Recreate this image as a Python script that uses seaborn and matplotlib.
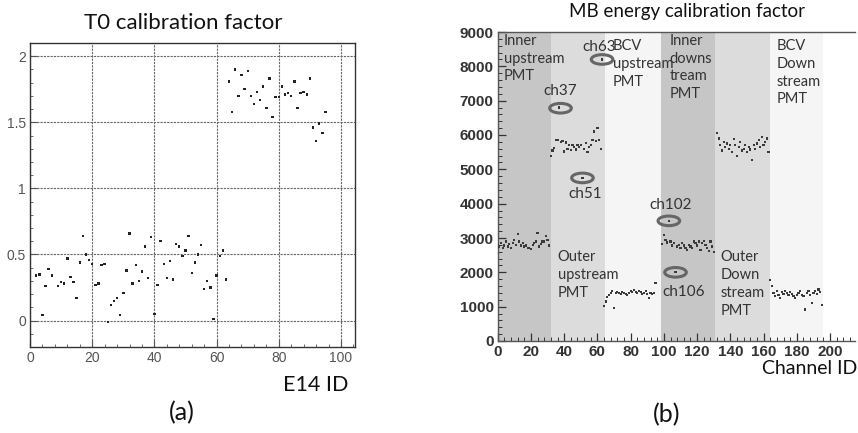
import numpy as np
import pandas as pd
import seaborn as sns
import matplotlib
matplotlib.use("Agg")
import matplotlib.pyplot as plt
from matplotlib.patches import Ellipse
from matplotlib.ticker import MultipleLocator

# ---------------- data: panel (a) ----------------
t0_ids = [2, 3, 4, 5, 6, 7, 9, 10, 11, 12, 13, 14, 15, 16, 17, 18, 19, 20, 21, 22,
          23, 24, 25, 26, 27, 28, 29, 30, 31, 32, 33, 34, 35, 36, 37, 38, 39, 40, 41, 42,
          43, 44, 45, 46, 47, 48, 49, 50, 51, 52, 53, 54, 55, 56, 57, 58, 59, 60, 61, 62,
          63, 64, 65, 66, 67, 68, 69, 70, 71, 72, 73, 74, 75, 76, 77, 78, 79, 80, 81, 82,
          83, 84, 85, 86, 87, 88, 89, 90, 91, 92, 93, 94, 95]
t0_vals = [0.34, 0.35, 0.04, 0.26, 0.39, 0.34, 0.26, 0.29, 0.28, 0.47, 0.33, 0.29, 0.17, 0.44, 0.64, 0.50, 0.46, 0.43, 0.27, 0.28,
           0.42, 0.43, -0.01, 0.12, 0.15, 0.17, 0.04, 0.21, 0.38, 0.66, 0.28, 0.42, 0.30, 0.37, 0.56, 0.32, 0.63, 0.05, 0.27, 0.60,
           0.43, 0.32, 0.45, 0.31, 0.58, 0.56, 0.49, 0.53, 0.64, 0.36, 0.44, 0.50, 0.57, 0.24, 0.30, 0.25, 0.01, 0.34, 0.49, 0.53,
           0.31, 1.81, 1.58, 1.90, 1.70, 1.86, 1.75, 1.89, 1.70, 1.64, 1.73, 1.67, 1.77, 1.61, 1.83, 1.54, 1.69, 1.69, 1.77, 1.71,
           1.72, 1.70, 1.81, 1.61, 1.72, 1.73, 1.71, 1.83, 1.46, 1.36, 1.49, 1.42, 1.58]

# ---------------- data: panel (b) ----------------
group_names = ["Inner\nupstream\nPMT", "Outer\nupstream\nPMT", "BCV\nupstream\nPMT",
               "Inner\ndowns\ntream\nPMT", "Outer\nDown\nstream\nPMT", "BCV\nDown\nstream\nPMT"]
group_first_channel = [0, 32, 64, 99, 132, 164]
band_edges = [0, 32, 64.5, 98, 131, 164, 196]
band_colors = ["#c6c6c6", "#dcdcdc", "#f5f5f5", "#c6c6c6", "#dcdcdc", "#f5f5f5"]

inner_up = [2800, 2750, 2850, 2700, 2780, 2900, 2750, 2820, 2700, 2850, 2950, 2800, 3120, 2900, 2780, 2850,
            2750, 2780, 2700, 2720, 2680, 2800, 2850, 2900, 3150, 2750, 2820, 2900, 2900, 3050, 2950, 2780]
outer_up = [5400, 5550, 5620, 5850, 5850, 6800, 5800, 5820, 5520, 5780, 5600, 5700, 5560, 5700, 5640, 5580,
            5720, 5650, 5720, 4750, 5600, 5760, 5500, 5650, 5720, 5850, 6100, 5820, 6200, 5850, 5600, 8200]
bcv_up = [1020, 1150, 1280, 1350, 1400, 1450, 950, 1400, 1420, 1400, 1380, 1420, 1400, 1380, 1350, 1400,
          1450, 1420, 1480, 1420, 1400, 1450, 1420, 1380, 1400, 1450, 1380, 1250, 1400, 1380, 1400, 1700]
inner_down = [2820, 3080, 2950, 2870, 3500, 2900, 2780, 2850, 2000, 2750, 2800, 2700, 2850, 2780, 2720, 2650,
              2800, 2750, 2700, 2900, 2850, 2780, 2900, 2650, 2850, 2920, 2800, 2700, 2620, 2900, 2750, 2600]
outer_down = [6050, 5900, 5700, 5550, 5800, 5650, 5750, 5600, 5700, 5500, 5880, 5700, 5400, 5650, 5800, 5550,
              5600, 5700, 5500, 5650, 5580, 5280, 5700, 5600, 5750, 5850, 5650, 5950, 5700, 5800, 5900, 5500]
bcv_down = [1780, 1600, 1400, 1300, 1450, 1350, 1250, 1420, 1380, 1450, 1400, 1350, 1420, 1380, 1300, 1250,
            1350, 1400, 1450, 1350, 1300, 920, 1400, 1450, 1350, 1100, 1400, 1450, 1380, 1500, 1420, 1050]

highlight_labels = ["ch37", "ch51", "ch63", "ch102", "ch106"]
highlight_x = [37.8, 51.0, 62.8, 103.0, 107.0]
highlight_y = [6780, 4750, 8200, 3500, 2000]

# ---------------- style ----------------
sns.set_theme(style="white")
plt.rcParams["font.family"] = ["Lato", "DejaVu Sans"]
tick_font = "Liberation Sans"

fig = plt.figure(figsize=(8.58, 4.33), dpi=100)
ax_a = fig.add_axes([30 / 858, 1 - 347 / 433, 325 / 858, 304 / 433])
ax_b = fig.add_axes([497.7 / 858, 1 - 341 / 433, 357.3 / 858, 309 / 433])

# ---------------- panel (a) ----------------
df_a = pd.DataFrame({"E14 ID": t0_ids, "T0": t0_vals})
sns.scatterplot(data=df_a, x="E14 ID", y="T0", ax=ax_a, marker="s", s=3,
                color="#222222", edgecolor="none", linewidth=0)
ax_a.set_xlim(0, 104.5)
ax_a.set_ylim(-0.2, 2.1)
ax_a.xaxis.set_major_locator(MultipleLocator(20))
ax_a.xaxis.set_minor_locator(MultipleLocator(4))
ax_a.yaxis.set_major_locator(MultipleLocator(0.5))
ax_a.yaxis.set_minor_locator(MultipleLocator(0.1))
ax_a.set_yticks([0, 0.5, 1, 1.5, 2])
ax_a.set_yticklabels(["0", "0.5", "1", "1.5", "2"])
ax_a.grid(True, which="major", color="#666666", linestyle=(0, (2, 1)), linewidth=0.8)
ax_a.tick_params(which="both", direction="in", left=True, bottom=True, colors="#555555",
                 labelsize=10, pad=3)
ax_a.tick_params(which="major", length=5, width=0.8)
ax_a.tick_params(which="minor", length=2.5, width=0.6)
for lab in ax_a.get_xticklabels() + ax_a.get_yticklabels():
    lab.set_fontfamily(tick_font)
for sp in ax_a.spines.values():
    sp.set_color("#333333")
    sp.set_linewidth(1.0)
ax_a.set_xlabel("")
ax_a.set_ylabel("")
fig.text(183 / 858, 1 - 23 / 433, "T0 calibration factor", ha="center", va="center",
         fontsize=16, color="#111111")
fig.text(316 / 858, 1 - 385 / 433, "E14 ID", ha="center", va="center",
         fontsize=15.5, color="#111111")
fig.text(182 / 858, 1 - 413 / 433, "(a)", ha="center", va="center",
         fontsize=18, color="#111111")

# ---------------- panel (b) ----------------
for i in range(len(band_colors)):
    ax_b.axvspan(band_edges[i], band_edges[i + 1], color=band_colors[i], lw=0, zorder=0)

groups = [inner_up, outer_up, bcv_up, inner_down, outer_down, bcv_down]
rows = []
for g, (start, vals) in enumerate(zip(group_first_channel, groups)):
    for k, v in enumerate(vals):
        rows.append({"Channel ID": start + k, "factor": v, "group": g})
df_b = pd.DataFrame(rows)
sns.scatterplot(data=df_b, x="Channel ID", y="factor", ax=ax_b, marker="s", s=2.5,
                color="#3a3a3a", edgecolor="none", linewidth=0, zorder=3)

ax_b.set_xlim(0, 215)
ax_b.set_ylim(0, 9000)
ax_b.xaxis.set_major_locator(MultipleLocator(20))
ax_b.xaxis.set_minor_locator(MultipleLocator(4))
ax_b.yaxis.set_major_locator(MultipleLocator(1000))
ax_b.yaxis.set_minor_locator(MultipleLocator(200))
ax_b.tick_params(which="both", direction="in", left=True, bottom=True, colors="#333333",
                 labelsize=11, pad=3)
ax_b.tick_params(which="major", length=6, width=0.9)
ax_b.tick_params(which="minor", length=3, width=0.7)
for lab in ax_b.get_xticklabels() + ax_b.get_yticklabels():
    lab.set_fontfamily(tick_font)
    lab.set_fontweight("bold")
for sp in ax_b.spines.values():
    sp.set_color("#555555")
    sp.set_linewidth(1.0)
ax_b.spines["right"].set_visible(False)
ax_b.set_xlabel("")
ax_b.set_ylabel("")

# group labels
label_x = [3.8, 36.0, 69.3, 103.6, 134.0, 168.0]
label_y = [8950, 2650, 8800, 8950, 2650, 8800]
for name, lx, ly in zip(group_names, label_x, label_y):
    ax_b.text(lx, ly, name, ha="left", va="top", fontsize=10.5, color="#333333",
              linespacing=1.35, zorder=4)

# highlighted outliers
label_offsets = [(0, 300, "bottom"), (1.5, -260, "top"), (-2.0, 170, "bottom"),
                 (1.0, 250, "bottom"), (5.0, -380, "top")]
for lab, hx, hy, (dx, dy, va) in zip(highlight_labels, highlight_x, highlight_y, label_offsets):
    ax_b.add_patch(Ellipse((hx, hy), width=13, height=280, fill=False,
                           edgecolor="#666666", linewidth=2.2, zorder=5))
    ax_b.text(hx + dx, hy + dy, lab, ha="center", va=va, fontsize=11,
              color="#333333", zorder=6)

fig.text(687 / 858, 1 - 11 / 433, "MB energy calibration factor", ha="center", va="center",
         fontsize=13.5, color="#111111")
fig.text(857 / 858, 1 - 368 / 433, "Channel ID", ha="right", va="center",
         fontsize=14, color="#111111")
fig.text(667 / 858, 1 - 415 / 433, "(b)", ha="center", va="center",
         fontsize=18, color="#111111")

fig.savefig("out.png", dpi=100)
